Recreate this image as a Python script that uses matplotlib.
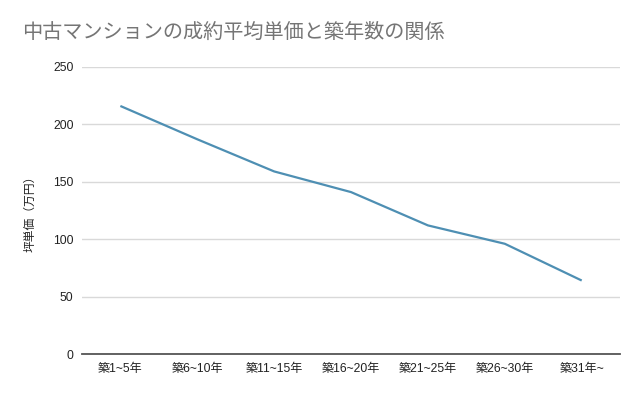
import numpy as np
import matplotlib.pyplot as plt

plt.rcParams['font.family'] = ['Liberation Sans', 'Noto Sans CJK JP', 'DejaVu Sans']

categories = ['築1~5年', '築6~10年', '築11~15年', '築16~20年', '築21~25年', '築26~30年', '築31年~']
price = [216, 187, 159, 141, 112, 96, 64]
yticks = [0, 50, 100, 150, 200, 250]

title = '中古マンションの成約平均単価と築年数の関係'
ylabel = '坪単価（万円）'

fig = plt.figure(figsize=(6.4, 3.96), dpi=100)
ax = fig.add_axes([0.128, 0.106, 0.841, 0.725])

x = np.arange(len(categories))
ax.plot(x, price, color='#4e8fb3', linewidth=1.6, solid_capstyle='butt')

ax.set_xlim(-0.5, len(categories) - 0.5)
ax.set_ylim(0, 250)
ax.set_yticks(yticks)
ax.set_xticks(x)
ax.set_xticklabels(categories)

ax.grid(axis='y', color='#d9d9d9', linewidth=1)
ax.set_axisbelow(True)
for s in ['top', 'right', 'left']:
    ax.spines[s].set_visible(False)
ax.spines['bottom'].set_color('#555555')
ax.spines['bottom'].set_linewidth(1.3)
ax.spines['bottom'].set_zorder(3)

ax.tick_params(axis='both', length=0, labelsize=8.7, colors='#222222')
ax.tick_params(axis='y', pad=6)
ax.tick_params(axis='x', pad=6.5)

ax.set_ylabel(ylabel, fontsize=8.5, color='#222222', labelpad=12)

fig.text(22 / 640, 1 - 32 / 396, title, fontsize=14.5, color='#757575',
         ha='left', va='center')

fig.savefig('out.png', dpi=100)
